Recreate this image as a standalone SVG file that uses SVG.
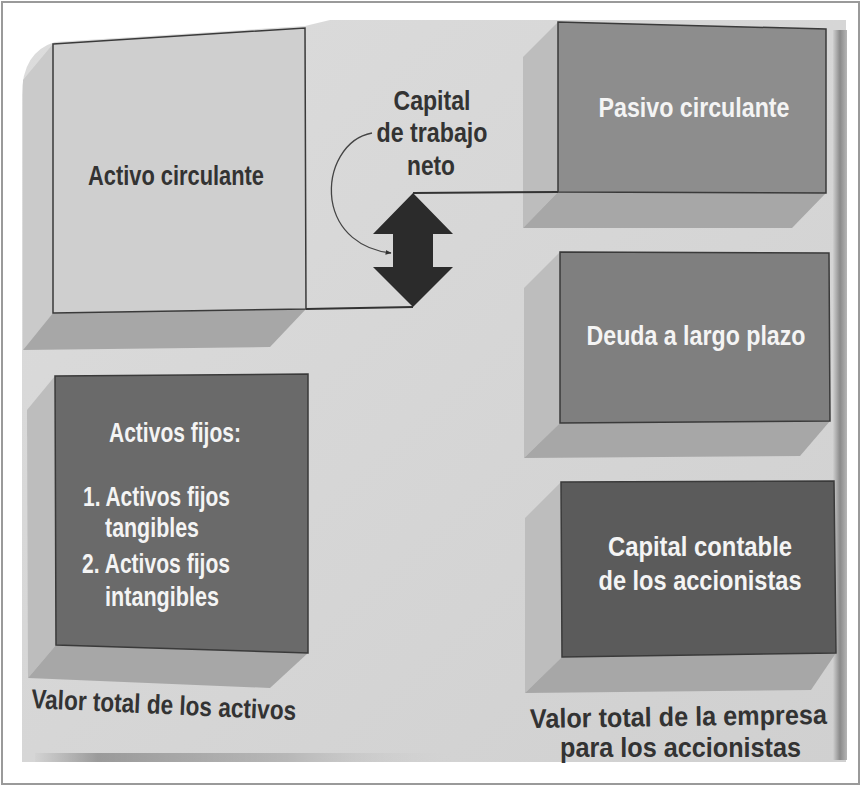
<svg xmlns="http://www.w3.org/2000/svg" width="865" height="787" viewBox="0 0 865 787">
<defs>
<linearGradient id="pageG" x1="0" y1="0" x2="1" y2="1">
<stop offset="0" stop-color="#dcdcdc"/>
<stop offset="1" stop-color="#d0d0d0"/>
</linearGradient>
<linearGradient id="edgeG" x1="0" y1="0" x2="1" y2="0">
<stop offset="0" stop-color="#cfcfcf"/>
<stop offset="0.5" stop-color="#8a8a8a"/>
<stop offset="1" stop-color="#b5b5b5"/>
</linearGradient>
<linearGradient id="curlG" x1="0" y1="0" x2="1" y2="0">
<stop offset="0" stop-color="#d0d0d0"/>
<stop offset="0.15" stop-color="#6a6a6a"/>
<stop offset="0.6" stop-color="#a0a0a0"/>
<stop offset="1" stop-color="#d0d0d0" stop-opacity="0"/>
</linearGradient>
<marker id="ah" viewBox="0 0 10 10" refX="9" refY="5" markerWidth="6" markerHeight="6" orient="auto" markerUnits="userSpaceOnUse">
<path d="M0,1 L10,5 L0,9 Z" fill="#333"/>
</marker>
</defs>
<style>
.front{stroke:#3a3a3a;stroke-width:1.5}
.lf{fill:#bdbdbd}
.bf{fill:#a7a7a7}
.t{font-family:"Liberation Sans Narrow","Liberation Sans",Arial,sans-serif;font-weight:bold;font-size:27px}
.dk{fill:#333333}
.wt{fill:#f4f4f4}
.ln{stroke:#333;stroke-width:2;fill:none}
</style>
<rect x="0" y="0" width="865" height="787" fill="#ffffff"/>
<rect x="2" y="2" width="857" height="782" fill="none" stroke="#9a9a9a" stroke-width="2"/>
<path d="M22,95 Q22,52 55,42 L305,26 L330,20 L846,20 L846,762 L22,762 Z" fill="url(#pageG)"/>
<rect x="833" y="30" width="14" height="730" fill="url(#edgeG)"/>
<rect x="35" y="753" width="420" height="9" fill="url(#curlG)" opacity="0.55"/>

<g id="activo-circulante">
<polygon points="53,44 23,80 23,350 53,313" fill="#cacaca"/>
<polygon class="bf" points="53,313 306,309 270,347 23,350"/>
<polygon class="front" points="53,44 305,28 306,309 53,313" fill="#cfcfcf"/>
<text class="t dk" x="176" y="185" text-anchor="middle" textLength="176" lengthAdjust="spacingAndGlyphs">Activo circulante</text>
</g>

<g id="pasivo-circulante">
<polygon class="lf" points="558,22 523,57 523,228 558,192"/>
<polygon class="bf" points="558,192 826,193 792,228 523,228"/>
<polygon class="front" points="558,22 826,29 826,193 558,192" fill="#8d8d8d"/>
<text class="t wt" x="694" y="117" text-anchor="middle" textLength="191" lengthAdjust="spacingAndGlyphs">Pasivo circulante</text>
</g>

<g id="deuda-largo-plazo">
<polygon class="lf" points="560,252 524,288 524,458 560,423"/>
<polygon class="bf" points="560,423 830,421 800,456 524,458"/>
<polygon class="front" points="560,252 829,253 830,421 560,423" fill="#7f7f7f"/>
<text class="t wt" x="696" y="345" text-anchor="middle" textLength="219" lengthAdjust="spacingAndGlyphs">Deuda a largo plazo</text>
</g>

<g id="capital-contable">
<polygon class="lf" points="561,482 525,518 525,693 562,657"/>
<polygon class="bf" points="562,657 836,653 811,690 525,693"/>
<polygon class="front" points="561,482 834,481 836,653 562,657" fill="#5b5b5b"/>
<text class="t wt" x="700" y="556" text-anchor="middle" textLength="184" lengthAdjust="spacingAndGlyphs">Capital contable</text>
<text class="t wt" x="700" y="590" text-anchor="middle" textLength="203" lengthAdjust="spacingAndGlyphs">de los accionistas</text>
</g>

<g id="activos-fijos">
<polygon class="lf" points="55,376 27,410 28,678 56,645"/>
<polygon class="bf" points="56,645 308,653 270,688 28,678"/>
<polygon class="front" points="55,376 308,374 308,653 56,645" fill="#6a6a6a"/>
<text class="t wt" x="175" y="442" text-anchor="middle" textLength="132" lengthAdjust="spacingAndGlyphs">Activos fijos:</text>
<text class="t wt" x="83" y="506" textLength="147" lengthAdjust="spacingAndGlyphs">1. Activos fijos</text>
<text class="t wt" x="105" y="537" textLength="94" lengthAdjust="spacingAndGlyphs">tangibles</text>
<text class="t wt" x="82" y="573" textLength="148" lengthAdjust="spacingAndGlyphs">2. Activos fijos</text>
<text class="t wt" x="105" y="606" textLength="114" lengthAdjust="spacingAndGlyphs">intangibles</text>
</g>

<g id="capital-trabajo-neto">
<polygon points="413,193 453,234 433,234 433,267 453,267 413,307 373,267 393,267 393,234 373,234" fill="#2b2b2b"/>
<text class="t dk" x="432" y="110" text-anchor="middle" textLength="77" lengthAdjust="spacingAndGlyphs">Capital</text>
<text class="t dk" x="432" y="142" text-anchor="middle" textLength="111" lengthAdjust="spacingAndGlyphs">de trabajo</text>
<text class="t dk" x="431" y="175" text-anchor="middle" textLength="48" lengthAdjust="spacingAndGlyphs">neto</text>
</g>

<g id="connectors">
<path class="ln" d="M306,309 L413,307"/>
<path class="ln" d="M413,193 L558,192"/>
<path d="M372,133 C345,138 328,168 332,200 C337,232 362,250 391,253" fill="none" stroke="#444" stroke-width="1.3" marker-end="url(#ah)"/>
</g>

<g id="labels">
<text class="t dk" x="31" y="708" transform="rotate(2.6 31 708)" textLength="265" lengthAdjust="spacingAndGlyphs">Valor total de los activos</text>
<text class="t dk" x="530" y="728" transform="rotate(-0.8 530 728)" textLength="297" lengthAdjust="spacingAndGlyphs">Valor total de la empresa</text>
<text class="t dk" x="560" y="757" textLength="241" lengthAdjust="spacingAndGlyphs">para los accionistas</text>
</g>
</svg>
